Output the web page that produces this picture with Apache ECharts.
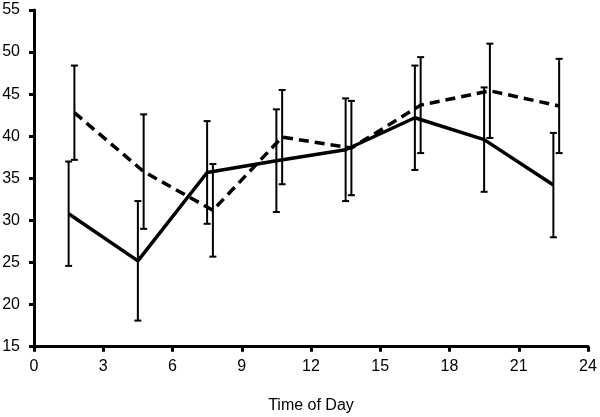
<!DOCTYPE html>
<html><head><meta charset="utf-8">
<script src="https://cdn.jsdelivr.net/npm/echarts@6/dist/echarts.min.js"></script>
<style>html,body{margin:0;padding:0;background:#fff}#c{width:600px;height:417px}</style>
</head><body><div id="c"></div>
<script>
var solidX = [1.5, 4.5, 7.5, 10.5, 13.5, 16.5, 19.5, 22.5];
var solidY = [30.8, 25.2, 35.7, 37.1, 38.4, 42.2, 39.6, 34.2];
var solidErr = [6.2, 7.1, 6.1, 6.1, 6.1, 6.2, 6.2, 6.2];
var dashX = [1.75, 4.75, 7.75, 10.75, 13.75, 16.75, 19.75, 22.75];
var dashY = [42.8, 35.8, 31.2, 39.9, 38.6, 43.7, 45.4, 43.6];
var dashErr = [5.6, 6.8, 5.5, 5.6, 5.6, 5.7, 5.6, 5.6];
var xTicks = [0, 3, 6, 9, 12, 15, 18, 21, 24];
var yTicks = [15, 20, 25, 30, 35, 40, 45, 50, 55];

function pts(xs, ys){ return xs.map(function(x,i){ return [x, ys[i]]; }); }
function errs(xs, ys, es){ return xs.map(function(x,i){ return [x, ys[i]-es[i], ys[i]+es[i]]; }); }

function errRender(params, api){
  var x = api.value(0), lo = api.value(1), hi = api.value(2);
  var p1 = api.coord([x, hi]), p2 = api.coord([x, lo]);
  var w = 3.5;
  var st = {stroke:'#000', lineWidth:2};
  return {type:'group', children:[
    {type:'line', shape:{x1:p1[0], y1:p1[1], x2:p2[0], y2:p2[1]}, style:st},
    {type:'line', shape:{x1:p1[0]-w, y1:p1[1], x2:p1[0]+w, y2:p1[1]}, style:st},
    {type:'line', shape:{x1:p2[0]-w, y1:p2[1], x2:p2[0]+w, y2:p2[1]}, style:st}
  ]};
}

var chart = echarts.init(document.getElementById('c'));
var font = 'Liberation Sans, Arial, sans-serif';
chart.setOption({
  animation:false,
  grid:{left:34, right:12, top:10, bottom:70.3, containLabel:false, outerBoundsMode:'none'},
  xAxis:{type:'value', min:xTicks[0], max:xTicks[xTicks.length-1], interval:3,
    name:'Time of Day', nameLocation:'middle', nameGap:51,
    nameTextStyle:{fontFamily:font, fontSize:16, color:'#000'},
    axisLine:{show:true, lineStyle:{color:'#000', width:3}},
    axisTick:{show:true, length:5, lineStyle:{color:'#000', width:3}},
    axisLabel:{fontFamily:font, fontSize:16, color:'#000', margin:12},
    splitLine:{show:false}},
  yAxis:{type:'value', min:yTicks[0], max:yTicks[yTicks.length-1], interval:5,
    axisLine:{show:true, lineStyle:{color:'#000', width:3}},
    axisTick:{show:true, length:5, lineStyle:{color:'#000', width:3}},
    axisLabel:{fontFamily:font, fontSize:16, color:'#000', margin:14},
    splitLine:{show:false}},
  series:[
    {type:'line', data:pts(solidX, solidY), symbol:'none', lineStyle:{color:'#000', width:3.5}, z:3},
    {type:'line', data:pts(dashX, dashY), symbol:'none', lineStyle:{color:'#000', width:3.5, type:[10,6]}, z:3},
    {type:'custom', data:errs(solidX, solidY, solidErr), renderItem:errRender, z:4},
    {type:'custom', data:errs(dashX, dashY, dashErr), renderItem:errRender, z:4}
  ]
});
</script></body></html>
